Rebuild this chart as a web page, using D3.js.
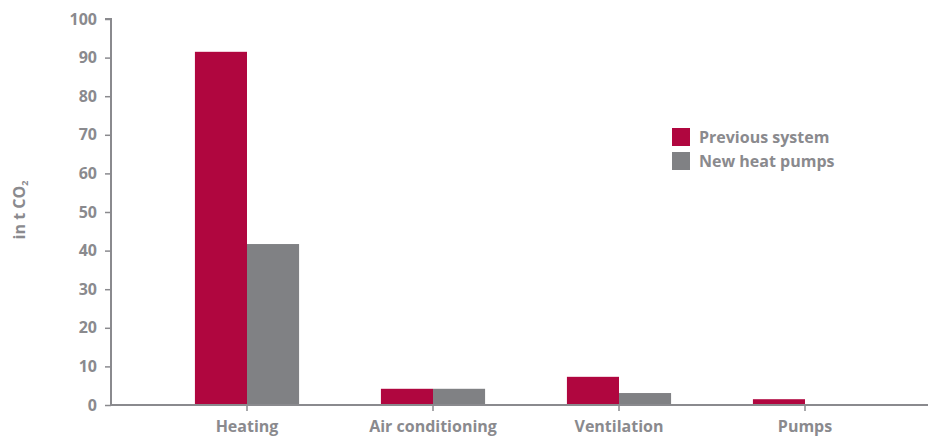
<!DOCTYPE html>
<html><head><meta charset="utf-8">
<script src="https://cdn.jsdelivr.net/npm/d3@7/dist/d3.min.js"></script>
<style>body{margin:0;background:#fff;}svg{display:block;font-family:"Open Sans",sans-serif;font-weight:bold;}</style>
</head><body>
<script>
const categories = ["Heating", "Air conditioning", "Ventilation", "Pumps"];
const seriesNames = ["Previous system", "New heat pumps"];
const previousSystem = [91.5, 4.2, 7.3, 1.5];
const newHeatPumps = [41.7, 4.2, 3.1, 0];
const yTicks = [0, 10, 20, 30, 40, 50, 60, 70, 80, 90, 100];
const colors = ["#b0063f", "#808184"];
const textColor = "#8a8a8e";
const FONT = "'Open Sans', sans-serif";

const W = 932, H = 437;
const svg = d3.select("body").append("svg").attr("width", W).attr("height", H);

const y = d3.scaleLinear().domain([0, 100]).range([405, 19]);
const x0 = d3.scaleBand().domain(categories).range([154, 898]).paddingInner(0.44).paddingOuter(0.22);
const x1 = d3.scaleBand().domain(seriesNames).range([0, x0.bandwidth()]);

const series = [previousSystem, newHeatPumps];
const data = categories.map((c, i) => ({cat: c, vals: seriesNames.map((s, j) => ({s, v: series[j][i], j}))}));

// bars
const g = svg.append("g");
g.selectAll("g.grp").data(data).join("g").attr("class", "grp")
  .attr("transform", d => `translate(${x0(d.cat)},0)`)
  .selectAll("rect").data(d => d.vals).join("rect")
  .attr("x", d => x1(d.s)).attr("width", x1.bandwidth())
  .attr("y", d => y(d.v)).attr("height", d => y(0) - y(d.v))
  .attr("fill", d => colors[d.j]);

// y axis
const yAxis = svg.append("g").attr("transform", "translate(111,0)")
  .call(d3.axisLeft(y).tickValues(yTicks).tickSize(6).tickPadding(8));
yAxis.select(".domain").attr("stroke", "#8a8a8e").attr("stroke-width", 2).attr("d", `M-6,${y(100)}H0V${y(0)}`);
yAxis.selectAll(".tick line").attr("stroke", "#8a8a8e").attr("stroke-width", 1.5);
yAxis.selectAll(".tick text").attr("fill", textColor).style("font-size", "16px").style("font-weight", "bold").style("font-family", FONT);

// x axis
const xAxis = svg.append("g").attr("transform", `translate(0,${y(0)})`)
  .call(d3.axisBottom(x0).tickSize(6).tickPadding(10));
xAxis.select(".domain").attr("stroke", "#8a8a8e").attr("stroke-width", 2).attr("d", `M111,0H928`);
xAxis.selectAll(".tick line").attr("stroke", "#8a8a8e").attr("stroke-width", 1.5);
xAxis.selectAll(".tick text").attr("fill", textColor).style("font-size", "16px").style("font-weight", "bold").style("font-family", FONT);

// y label
const yl = svg.append("text").attr("transform", "translate(25,210) rotate(-90)")
  .attr("text-anchor", "middle").attr("fill", textColor).style("font-size", "16px");
yl.append("tspan").text("in t CO");
yl.append("tspan").text("2").style("font-size", "9px").attr("dy", 3);

// legend
const leg = svg.append("g").attr("transform", "translate(672,128)");
seriesNames.forEach((s, i) => {
  leg.append("rect").attr("x", 0).attr("y", i * 24).attr("width", 18).attr("height", 18).attr("fill", colors[i]);
  leg.append("text").attr("x", 27).attr("y", i * 24 + 15).attr("fill", textColor).style("font-size", "16px").text(s);
});
</script>
</body></html>
